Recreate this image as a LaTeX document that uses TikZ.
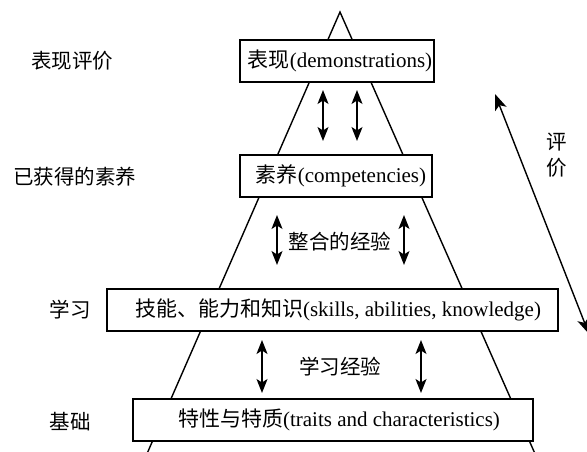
\documentclass[tikz,border=0pt]{standalone}
\usepackage{fontspec}
\setmainfont{Liberation Serif}
\newfontfamily\cjk{Noto Sans CJK SC}
\usetikzlibrary{arrows.meta}
\begin{document}
\begin{tikzpicture}[x=1pt,y=-1pt,
  box/.style={draw, line width=1.4pt, fill=white, minimum height=42pt, inner sep=0pt, font=\fontsize{21}{25}\selectfont},
  lbl/.style={font=\cjk\fontsize{20.5}{24}\selectfont, inner sep=0pt},
  dbl/.style={{Stealth[length=14pt,width=11pt,inset=3.5pt]}-{Stealth[length=14pt,width=11pt,inset=3.5pt]}, line width=1.4pt},
  edgeline/.style={line width=1.4pt}]
\useasboundingbox (0,0) rectangle (587,452);
% pyramid
\coordinate (apex) at (340,12);
\coordinate (bl) at (146,456);
\coordinate (br) at (536,456);
\draw[edgeline] (bl) -- (apex) -- (br);
% boxes
\node[box, minimum width=194pt] (b1) at (337,61) {\hspace*{6pt}{\cjk 表现}(demonstrations)};
\node[box, minimum width=192pt] (b2) at (336,176) {\hspace*{10pt}{\cjk 素养}(competencies)};
\node[box, minimum width=451pt] (b3) at (332.5,310) {\hspace*{11pt}{\cjk 技能、能力和知识}(skills, abilities, knowledge)};
\node[box, minimum width=400pt] (b4) at (333,420) {\hspace*{12pt}{\cjk 特性与特质}(traits and characteristics)};
% left labels
\node[lbl] (l1) at (72,61) {表现评价};
\node[lbl] (l2) at (74.5,177) {已获得的素养};
\node[lbl] (l3) at (70,310) {学习};
\node[lbl] (l4) at (70,422) {基础};
% inner labels
\node[lbl] (m1) at (340,242) {整合的经验};
\node[lbl] (m2) at (340,367) {学习经验};
% double arrows
\coordinate (a1t) at (323,90);  \coordinate (a1b) at (323,141);
\coordinate (a2t) at (357,90);  \coordinate (a2b) at (357,141);
\coordinate (a3t) at (277,215); \coordinate (a3b) at (277,265);
\coordinate (a4t) at (404,215); \coordinate (a4b) at (404,265);
\coordinate (a5t) at (262,340); \coordinate (a5b) at (262,393);
\coordinate (a6t) at (421,340); \coordinate (a6b) at (421,393);
\draw[dbl] (a1t) -- (a1b);
\draw[dbl] (a2t) -- (a2b);
\draw[dbl] (a3t) -- (a3b);
\draw[dbl] (a4t) -- (a4b);
\draw[dbl] (a5t) -- (a5b);
\draw[dbl] (a6t) -- (a6b);
% evaluation arrow
\coordinate (e1) at (495,94);
\coordinate (e2) at (589,334);
\draw[{Stealth[length=16pt,width=12pt,inset=4pt]}-{Stealth[length=16pt,width=12pt,inset=4pt]}, line width=1.4pt] (e1) -- (e2);
\node[lbl] (p1) at (557,142) {评};
\node[lbl] (p2) at (557,168) {价};
\end{tikzpicture}
\end{document}
